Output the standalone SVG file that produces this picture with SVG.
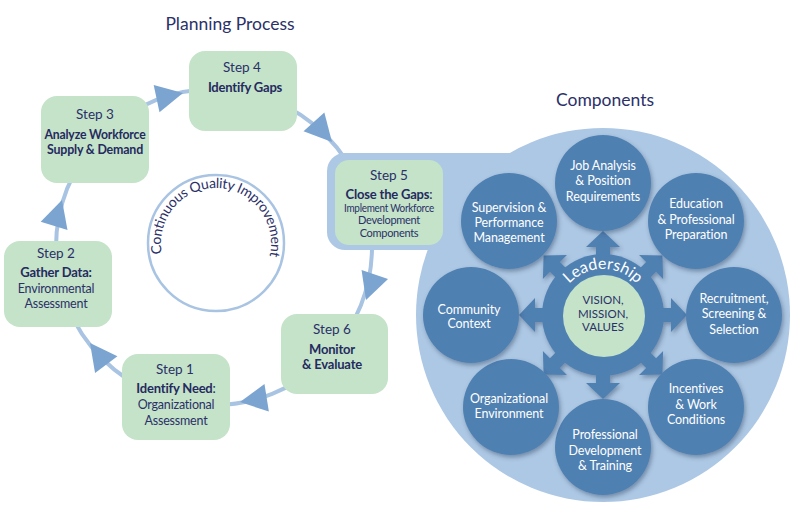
<svg xmlns="http://www.w3.org/2000/svg" xmlns:xlink="http://www.w3.org/1999/xlink" width="795" height="508" viewBox="0 0 795 508">
<style>
text{font-family:Lato,"Open Sans","Liberation Sans",sans-serif;text-anchor:middle}
.title{font-size:17.5px;fill:#2b3068}
.box{fill:#c4e3c8}
.st{font-size:13.5px;fill:#2b3068}
.b{font-size:13px;font-weight:bold;fill:#252a60;letter-spacing:-0.2px}
.r{font-size:12.5px;fill:#2b3068;letter-spacing:-0.2px}
.sm{font-size:11px;fill:#2b3068;letter-spacing:-0.3px}
.comp{fill:#5080b2;filter:url(#sh)}
.ct{font-size:12.5px;fill:#ffffff;letter-spacing:-0.1px}
.vt{font-size:11.5px;fill:#2b3068}
.line{fill:none;stroke:#a9c4e2;stroke-width:4}
.ah{fill:#7ba4d1}
.gear{fill:#5080b2}
</style>
<defs>
<filter id="sh" x="-20%" y="-20%" width="150%" height="150%">
<feDropShadow dx="1.5" dy="2.5" stdDeviation="2" flood-color="#2a3f5e" flood-opacity="0.45"/>
</filter>
<polygon id="ah" points="0,0 -27,-14 -27,14"/>
<polygon id="ga" points="-7,-55 -7,-68 -17,-68 0,-84 17,-68 7,-68 7,-55"/>
<path id="cqi" d="M162,253.5 A55,55 0 1 1 268.6,259.1"/>
<path id="lead" d="M557,315 A46,46 0 0 1 649,315"/>
</defs>

<text class="title" x="230" y="30">Planning Process</text>
<text class="title" x="605" y="106">Components</text>

<g id="connectors">
<circle class="line" cx="214" cy="247" r="158"/>
<use href="#ah" class="ah" transform="translate(183,93) rotate(-12)"/>
<use href="#ah" class="ah" transform="translate(332,142) rotate(48)"/>
<use href="#ah" class="ah" transform="translate(366,300) rotate(109)"/>
<use href="#ah" class="ah" transform="translate(240,402) rotate(171)"/>
<use href="#ah" class="ah" transform="translate(90,343) rotate(233)"/>
<use href="#ah" class="ah" transform="translate(62,200) rotate(287)"/>
</g>

<g id="cqi-circle">
<circle cx="216" cy="243" r="68" fill="#ffffff" stroke="#a9c4e2" stroke-width="2.5"/>
<text style="font-size:14px;fill:#2b3068;text-anchor:start"><textPath href="#cqi" textLength="196" lengthAdjust="spacing">Continuous Quality Improvement</textPath></text>
</g>

<g id="components-bg">
<rect x="327" y="153" width="220" height="97" rx="18" fill="#adc8e4"/>
<circle cx="603" cy="315" r="187" fill="#adc8e4"/>
</g>

<g id="step4">
<rect class="box" x="189" y="51" width="108" height="80" rx="16"/>
<text class="st" x="242" y="72">Step 4</text>
<text class="b" x="245" y="92">Identify Gaps</text>
</g>
<g id="step3">
<rect class="box" x="41" y="96" width="108" height="87" rx="16"/>
<text class="st" x="95" y="119">Step 3</text>
<text class="b" x="95" y="139" textLength="101" lengthAdjust="spacingAndGlyphs">Analyze Workforce</text>
<text class="b" x="95" y="154" textLength="96" lengthAdjust="spacingAndGlyphs">Supply &amp; Demand</text>
</g>
<g id="step2">
<rect class="box" x="4" y="241" width="108" height="86" rx="16"/>
<text class="st" x="56" y="258">Step 2</text>
<text class="b" x="56" y="277">Gather Data:</text>
<text class="r" x="56" y="293">Environmental</text>
<text class="r" x="56" y="308">Assessment</text>
</g>
<g id="step1">
<rect class="box" x="122" y="354" width="108" height="86" rx="16"/>
<text class="st" x="175" y="374">Step 1</text>
<text class="b" x="176" y="393">Identify Need<tspan style="font-weight:normal">:</tspan></text>
<text class="r" x="176" y="409">Organizational</text>
<text class="r" x="176" y="425">Assessment</text>
</g>
<g id="step6">
<rect class="box" x="281" y="314" width="107" height="80" rx="16"/>
<text class="st" x="332" y="334">Step 6</text>
<text class="b" x="332" y="354">Monitor</text>
<text class="b" x="332" y="369">&amp; Evaluate</text>
</g>
<g id="step5">
<rect class="box" x="335" y="160" width="108" height="85" rx="14"/>
<text class="st" x="389" y="180">Step 5</text>
<text class="b" x="389" y="199">Close the Gaps<tspan style="font-weight:normal">:</tspan></text>
<text class="sm" x="389" y="212" textLength="90" lengthAdjust="spacingAndGlyphs">Implement Workforce</text>
<text class="sm" x="389" y="224">Development</text>
<text class="sm" x="389" y="237">Components</text>
</g>

<g id="leadership">
<g filter="url(#sh)">
<circle class="gear" cx="603" cy="315" r="61"/>
<use href="#ga" class="gear" transform="translate(603,315) rotate(0)"/>
<use href="#ga" class="gear" transform="translate(603,315) rotate(45)"/>
<use href="#ga" class="gear" transform="translate(603,315) rotate(90)"/>
<use href="#ga" class="gear" transform="translate(603,315) rotate(135)"/>
<use href="#ga" class="gear" transform="translate(603,315) rotate(180)"/>
<use href="#ga" class="gear" transform="translate(603,315) rotate(225)"/>
<use href="#ga" class="gear" transform="translate(603,315) rotate(270)"/>
<use href="#ga" class="gear" transform="translate(603,315) rotate(315)"/>
</g>
<text style="font-size:16px;fill:#ffffff"><textPath href="#lead" startOffset="50%">Leadership</textPath></text>
</g>
<g id="vision">
<circle cx="604" cy="316" r="41" fill="#c4e3c8"/>
<text class="vt" x="603" y="304">VISION,</text>
<text class="vt" x="603" y="317.5">MISSION,</text>
<text class="vt" x="603" y="331">VALUES</text>
</g>

<g id="job-analysis">
<circle class="comp" cx="603" cy="183" r="48"/>
<text class="ct" x="603" y="170">Job Analysis</text>
<text class="ct" x="603" y="185">&amp; Position</text>
<text class="ct" x="603" y="201">Requirements</text>
</g>
<g id="education">
<circle class="comp" cx="696" cy="221" r="48"/>
<text class="ct" x="696" y="208">Education</text>
<text class="ct" x="696" y="224">&amp; Professional</text>
<text class="ct" x="696" y="239">Preparation</text>
</g>
<g id="recruitment">
<circle class="comp" cx="734" cy="315" r="48"/>
<text class="ct" x="734" y="303">Recruitment,</text>
<text class="ct" x="734" y="318">Screening &amp;</text>
<text class="ct" x="734" y="334">Selection</text>
</g>
<g id="incentives">
<circle class="comp" cx="696" cy="407" r="48"/>
<text class="ct" x="696" y="393">Incentives</text>
<text class="ct" x="696" y="409">&amp; Work</text>
<text class="ct" x="696" y="424">Conditions</text>
</g>
<g id="professional-development">
<circle class="comp" cx="603" cy="447" r="48"/>
<text class="ct" x="605" y="439">Professional</text>
<text class="ct" x="605" y="455">Development</text>
<text class="ct" x="605" y="470">&amp; Training</text>
</g>
<g id="organizational-environment">
<circle class="comp" cx="511" cy="407" r="48"/>
<text class="ct" x="509" y="403">Organizational</text>
<text class="ct" x="509" y="418">Environment</text>
</g>
<g id="community-context">
<circle class="comp" cx="471" cy="315" r="48"/>
<text class="ct" x="469" y="314">Community</text>
<text class="ct" x="469" y="328">Context</text>
</g>
<g id="supervision">
<circle class="comp" cx="509" cy="221" r="48"/>
<text class="ct" x="509" y="212">Supervision &amp;</text>
<text class="ct" x="509" y="227">Performance</text>
<text class="ct" x="509" y="242">Management</text>
</g>
</svg>
